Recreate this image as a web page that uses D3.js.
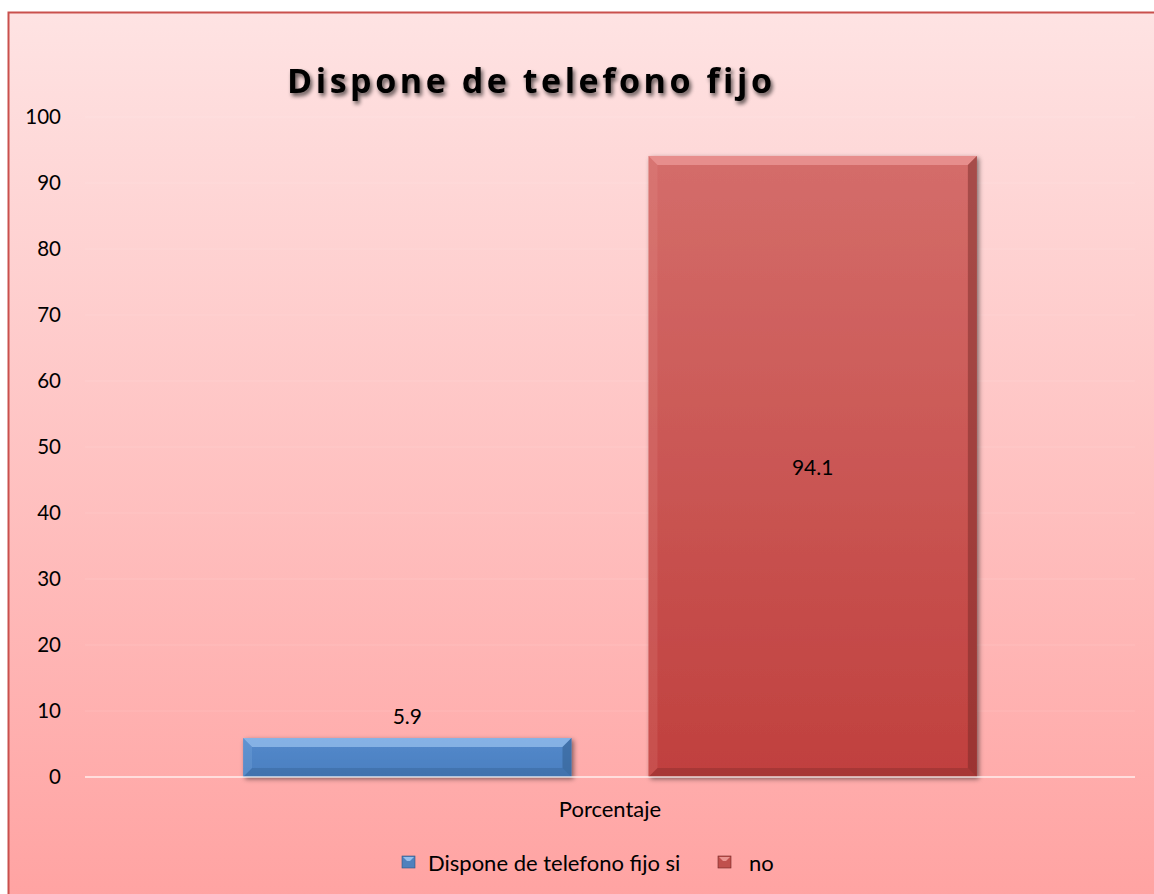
<!DOCTYPE html>
<html><head><meta charset="utf-8">
<script src="https://cdn.jsdelivr.net/npm/d3@7"></script>
<style>body{margin:0;background:#fff}svg{display:block}</style>
</head><body>
<script>
const title = "Dispone de telefono fijo";
const category = ["Porcentaje"];
const seriesNames = ["Dispone de telefono fijo si", "no"];
const seriesValues = [5.9, 94.1];
const yTicks = [0,10,20,30,40,50,60,70,80,90,100];

const W = 1154, H = 894;
const svg = d3.select("body").append("svg").attr("width", W).attr("height", H);
const defs = svg.append("defs");

const bg = defs.append("linearGradient").attr("id","bg").attr("x1",0).attr("y1",0).attr("x2",0).attr("y2",1);
bg.append("stop").attr("offset","0%").attr("stop-color","#fee3e3");
bg.append("stop").attr("offset","100%").attr("stop-color","#ffa1a0");

const gBlue = defs.append("linearGradient").attr("id","gb").attr("x1",0).attr("y1",0).attr("x2",0).attr("y2",1);
gBlue.append("stop").attr("offset","0%").attr("stop-color","#5489cb");
gBlue.append("stop").attr("offset","100%").attr("stop-color","#4a7fc0");
const gRed = defs.append("linearGradient").attr("id","gr").attr("x1",0).attr("y1",0).attr("x2",0).attr("y2",1);
gRed.append("stop").attr("offset","0%").attr("stop-color","#d46d6a");
gRed.append("stop").attr("offset","100%").attr("stop-color","#c0403e");

const shadow = defs.append("filter").attr("id","sh").attr("x","-20%").attr("y","-20%").attr("width","140%").attr("height","140%");
shadow.append("feGaussianBlur").attr("in","SourceAlpha").attr("stdDeviation",2.5);
shadow.append("feOffset").attr("dx",2).attr("dy",2);
shadow.append("feComponentTransfer").append("feFuncA").attr("type","linear").attr("slope",0.5);
const mg = shadow.append("feMerge"); mg.append("feMergeNode"); mg.append("feMergeNode").attr("in","SourceGraphic");

const tsh = defs.append("filter").attr("id","tsh").attr("x","-10%").attr("y","-30%").attr("width","120%").attr("height","160%");
tsh.append("feGaussianBlur").attr("in","SourceAlpha").attr("stdDeviation",2.2);
tsh.append("feOffset").attr("dx",2).attr("dy",3);
tsh.append("feComponentTransfer").append("feFuncA").attr("type","linear").attr("slope",0.65);
const mg2 = tsh.append("feMerge"); mg2.append("feMergeNode"); mg2.append("feMergeNode").attr("in","SourceGraphic");

// chart area background + border
svg.append("rect").attr("x",8.5).attr("y",12.5).attr("width",W+20).attr("height",H+20)
  .attr("fill","url(#bg)").attr("stroke","#c9504d").attr("stroke-width",2);

const font = "Lato, 'Open Sans', sans-serif";
const x0 = d3.scaleBand().domain(category).range([85,1135]).paddingInner(0).paddingOuter(0);
const x1 = d3.scaleBand().domain(seriesNames).range([0, x0.bandwidth()]).paddingInner(0.19).paddingOuter(0.39);
const y = d3.scaleLinear().domain([0,100]).range([777,117]);

// gridlines
svg.append("g").selectAll("line").data(yTicks.filter(d=>d>0)).join("line")
  .attr("x1",85).attr("x2",1135).attr("y1",d=>y(d)).attr("y2",d=>y(d))
  .attr("stroke","#ffffff").attr("stroke-opacity",0.08).attr("stroke-width",1.5);

// y axis
const yAxis = svg.append("g").attr("transform","translate(61,0)")
  .call(d3.axisLeft(y).tickValues(yTicks).tickSize(0).tickPadding(0));
yAxis.select(".domain").remove();
yAxis.selectAll("text").attr("font-family",font).attr("font-size",20.5).attr("fill","#000");

const colors = ["url(#gb)","url(#gr)"];
const dark = ["#2d5683","#6e2524"];
const light = ["#a7cdf6","#f4a5a3"];
const bars = svg.append("g");
seriesNames.forEach((s,i)=>{
  const bx = x0(category[0]) + x1(s), bw = x1.bandwidth();
  const by = y(seriesValues[i]), bh = y(0) - y(seriesValues[i]);
  const g = bars.append("g");
  g.append("rect").attr("x",bx).attr("y",by).attr("width",bw).attr("height",bh)
    .attr("fill",colors[i]).attr("filter","url(#sh)");
  const b = Math.min(9, bh/2);
  g.append("polygon").attr("points",[[bx,by],[bx+bw,by],[bx+bw-b,by+b],[bx+b,by+b]].join(" "))
    .attr("fill",light[i]).attr("opacity",0.6);
  g.append("polygon").attr("points",[[bx,by],[bx+b,by+b],[bx+b,by+bh-b],[bx,by+bh]].join(" "))
    .attr("fill",light[i]).attr("opacity",0.15);
  g.append("polygon").attr("points",[[bx+bw,by],[bx+bw,by+bh],[bx+bw-b,by+bh-b],[bx+bw-b,by+b]].join(" "))
    .attr("fill",dark[i]).attr("opacity",0.45);
  g.append("polygon").attr("points",[[bx,by+bh],[bx+bw,by+bh],[bx+bw-b,by+bh-b],[bx+b,by+bh-b]].join(" "))
    .attr("fill",dark[i]).attr("opacity",0.3);
  const inside = seriesValues[i] > 50;
  svg.append("text").attr("x",bx+bw/2).attr("y", inside ? by + bh/2 : by - 23)
    .attr("text-anchor","middle").attr("dominant-baseline","central")
    .attr("font-family",font).attr("font-size",21).attr("fill","#000").text(seriesValues[i]);
});

// zero line
svg.append("line").attr("x1",85).attr("x2",1135).attr("y1",y(0)).attr("y2",y(0))
  .attr("stroke","#ffffff").attr("stroke-opacity",0.6).attr("stroke-width",2);

// category label
svg.append("text").attr("x",x0(category[0])+x0.bandwidth()/2).attr("y",808)
  .attr("text-anchor","middle").attr("dominant-baseline","central")
  .attr("font-family",font).attr("font-size",22).text(category[0]);

// title: fit to target width with letter spacing
const tEl = svg.append("text").attr("x",287).attr("y",93)
  .attr("font-family","'Open Sans', sans-serif").attr("font-weight","bold")
  .style("font-variant-ligatures","none").style("font-size","34px")
  .attr("filter","url(#tsh)").text(title);
const natural = tEl.node().getComputedTextLength();
const ls = Math.max(0, (485 - natural) / (title.length - 1));
tEl.style("letter-spacing", ls + "px");

// legend
const lg = svg.append("g");
const legX = [402, 718], legTX = [428, 749];
seriesNames.forEach((s,i)=>{
  lg.append("rect").attr("x",legX[i]).attr("y",856).attr("width",13).attr("height",12)
    .attr("fill",i===0?"#4f81bd":"#c0504d").attr("stroke",dark[i]).attr("stroke-width",0.6);
  lg.append("polygon").attr("points",[[legX[i]+1,857],[legX[i]+12,857],[legX[i]+8,861],[legX[i]+5,861]].join(" "))
    .attr("fill",light[i]).attr("opacity",0.8);
  lg.append("text").attr("x",legTX[i]).attr("y",862).attr("dominant-baseline","central")
    .attr("font-family",font).attr("font-size",22).text(s);
});
</script>
</body></html>
